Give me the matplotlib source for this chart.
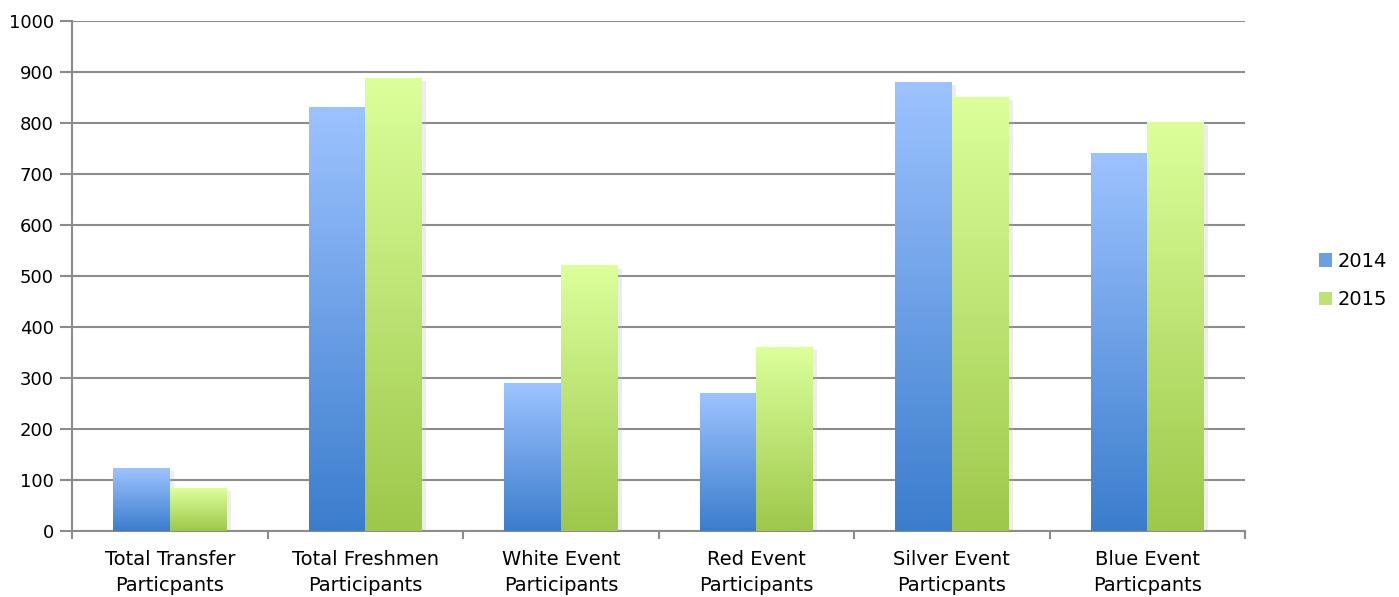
import matplotlib.pyplot as plt
import numpy as np
from matplotlib.colors import LinearSegmentedColormap
from matplotlib.patches import Patch
import matplotlib.patheffects as pe

# Chart data
categories = [
    "Total Transfer\nParticpants",
    "Total Freshmen\nParticipants",
    "White Event\nParticipants",
    "Red Event\nParticipants",
    "Silver Event\nParticpants",
    "Blue Event\nParticpants",
]
values_2014 = [123, 831, 290, 270, 880, 740]
values_2015 = [84, 888, 520, 360, 850, 802]
series_names = ["2014", "2015"]

# Gradient colours (bottom -> top)
colors = {
    '2014': ('#3B7DCD', '#9DC3FF'),
    '2015': ('#9DC84B', '#DCFF9B'),
    'grid': '#8C8C8C',
}

plt.rcParams['font.family'] = ['DejaVu Sans']

fig = plt.figure(figsize=(13.99, 5.97), dpi=100)
ax = fig.add_axes([0.0515, 0.1106, 0.8385, 0.8542])

x = np.arange(len(categories))
width = 0.29

shadow = [pe.SimplePatchShadow(offset=(3, -2), shadow_rgbFace='#bbbbbb', alpha=0.25), pe.Normal()]
bars_a = ax.bar(x - width / 2, values_2014, width, color=colors['2014'][0], zorder=2, path_effects=shadow)
bars_b = ax.bar(x + width / 2, values_2015, width, color=colors['2015'][0], zorder=2, path_effects=shadow)

# paint a vertical gradient over each bar
grad = np.linspace(0, 1, 256).reshape(-1, 1)
for bars, key in [(bars_a, '2014'), (bars_b, '2015')]:
    cmap = LinearSegmentedColormap.from_list(key, list(colors[key]))
    for b in bars:
        x0, y0 = b.get_x(), b.get_y()
        ax.imshow(grad, cmap=cmap, origin='lower', aspect='auto',
                  extent=[x0, x0 + b.get_width(), y0, y0 + b.get_height()], zorder=3)

ax.set_xlim(-0.5, len(categories) - 0.5)
ax.set_ylim(0, 1000)
ax.set_yticks(np.arange(0, 1001, 100))
ax.set_xticks(x)
ax.set_xticklabels(categories, fontsize=14, linespacing=1.45)
ax.set_xticks(np.arange(-0.5, len(categories), 1), minor=True)
ax.tick_params(axis='x', which='major', length=0, pad=14)
ax.tick_params(axis='x', which='minor', length=6, width=1.5, color=colors['grid'])
ax.tick_params(axis='y', length=9, width=1.5, color=colors['grid'], labelsize=13, pad=4)

ax.grid(axis='y', color=colors['grid'], linewidth=1.5, zorder=0)
ax.set_axisbelow(True)
ax.spines['top'].set_visible(False)
ax.spines['right'].set_visible(False)
for side in ['left', 'bottom']:
    ax.spines[side].set_color(colors['grid'])
    ax.spines[side].set_linewidth(1.5)

handles = [Patch(facecolor='#6A9FE6', label='2014'), Patch(facecolor='#BDE473', label='2015')]
fig.legend(handles=handles, loc='center left', bbox_to_anchor=(0.93, 0.53), frameon=False,
           fontsize=14, handlelength=0.7, handleheight=0.7, handletextpad=0.3, labelspacing=1.0)

plt.savefig("out.png", dpi=100)
